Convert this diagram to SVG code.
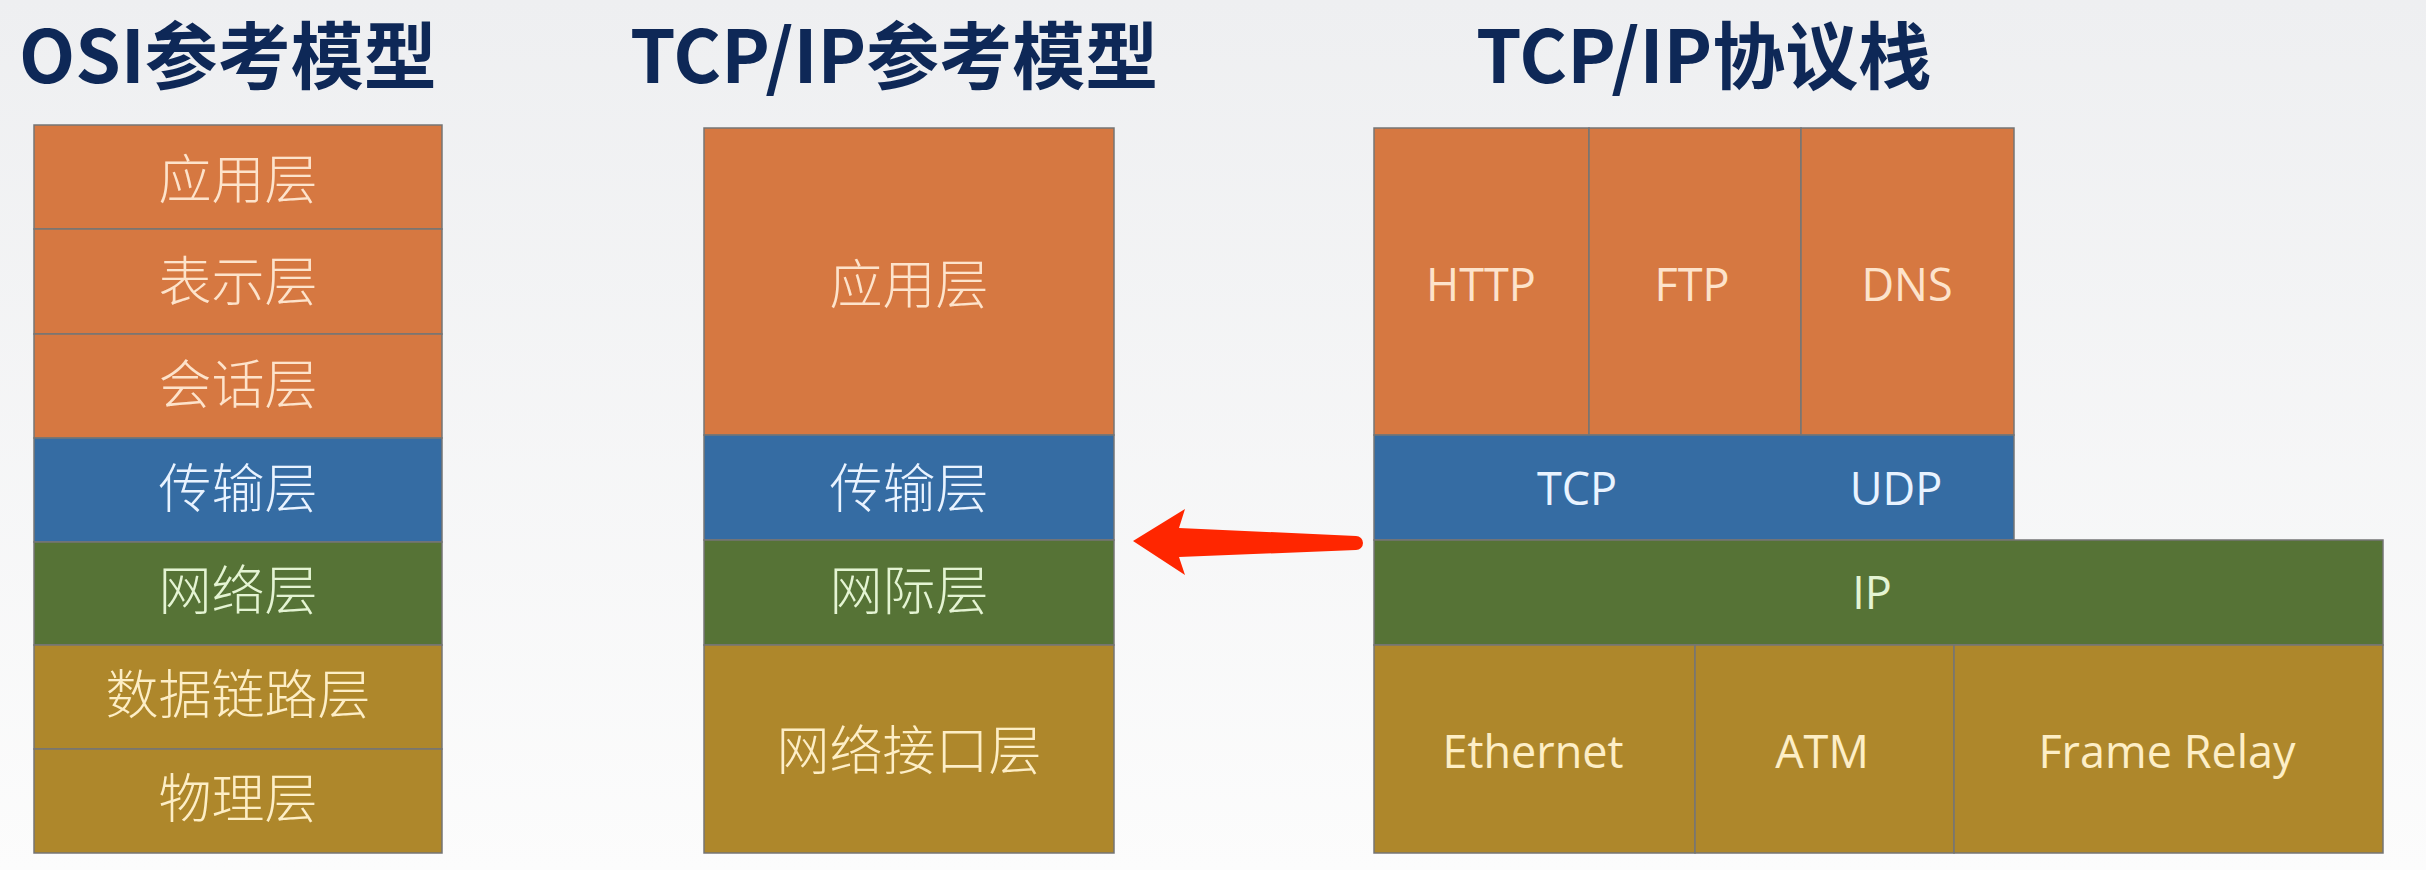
<svg xmlns="http://www.w3.org/2000/svg" width="2426" height="870" viewBox="0 0 2426 870">
<defs>
<linearGradient id="bg" x1="0" y1="0" x2="0" y2="1">
<stop offset="0" stop-color="#eeeff1"/>
<stop offset="1" stop-color="#fcfcfc"/>
</linearGradient>
</defs>
<style>
.title{font-family:"Noto Sans CJK SC","Noto Sans",sans-serif;font-weight:700;font-size:73px;fill:#0e2857}
.cell{stroke:#757575;stroke-width:1.5}
.app{fill:#d67841}
.tr{fill:#356ca3}
.net{fill:#567336}
.lnk{fill:#ae872b}
.cn{font-family:"Noto Sans CJK SC",sans-serif;font-weight:300;font-size:53px;text-anchor:middle;dominant-baseline:central}
.en{font-family:"Open Sans","Noto Sans",sans-serif;font-size:45px;text-anchor:middle;dominant-baseline:central}
.tapp{fill:#fde3cb}
.ttr{fill:#e9f3ff}
.tnet{fill:#e4f4d3}
.tlnk{fill:#fdeec6}
</style>
<rect x="0" y="0" width="2426" height="870" fill="url(#bg)"/>

<g id="titles">
<text class="title" x="19" y="83">OSI参考模型</text>
<text class="title" x="630" y="83">TCP/IP参考模型</text>
<text class="title" x="1476" y="83">TCP/IP协议栈</text>
</g>

<g id="osi-application"><rect class="cell app" x="34" y="125" width="408" height="104"/><text class="cn tapp" x="238" y="176">应用层</text></g>
<g id="osi-presentation"><rect class="cell app" x="34" y="229" width="408" height="105"/><text class="cn tapp" x="238" y="278">表示层</text></g>
<g id="osi-session"><rect class="cell app" x="34" y="334" width="408" height="104"/><text class="cn tapp" x="238" y="381">会话层</text></g>
<g id="osi-transport"><rect class="cell tr" x="34" y="438" width="408" height="104"/><text class="cn ttr" x="238" y="485">传输层</text></g>
<g id="osi-network"><rect class="cell net" x="34" y="542" width="408" height="103"/><text class="cn tnet" x="238" y="587">网络层</text></g>
<g id="osi-datalink"><rect class="cell lnk" x="34" y="645" width="408" height="104"/><text class="cn tlnk" x="238" y="691">数据链路层</text></g>
<g id="osi-physical"><rect class="cell lnk" x="34" y="749" width="408" height="104"/><text class="cn tlnk" x="238" y="795">物理层</text></g>

<g id="tcpip-application"><rect class="cell app" x="704" y="128" width="410" height="307"/><text class="cn tapp" x="909" y="281">应用层</text></g>
<g id="tcpip-transport"><rect class="cell tr" x="704" y="435" width="410" height="105"/><text class="cn ttr" x="909" y="485">传输层</text></g>
<g id="tcpip-internet"><rect class="cell net" x="704" y="540" width="410" height="105"/><text class="cn tnet" x="909" y="587">网际层</text></g>
<g id="tcpip-link"><rect class="cell lnk" x="704" y="645" width="410" height="208"/><text class="cn tlnk" x="909" y="747">网络接口层</text></g>

<g id="stack-http"><rect class="cell app" x="1374" y="128" width="215" height="307"/><text class="en tapp" x="1481" y="283">HTTP</text></g>
<g id="stack-ftp"><rect class="cell app" x="1589" y="128" width="212" height="307"/><text class="en tapp" x="1692" y="283">FTP</text></g>
<g id="stack-dns"><rect class="cell app" x="1801" y="128" width="213" height="307"/><text class="en tapp" x="1907" y="283">DNS</text></g>
<g id="stack-tcp-udp"><rect class="cell tr" x="1374" y="435" width="640" height="105"/><text class="en ttr" x="1577" y="487">TCP</text><text class="en ttr" x="1896" y="487">UDP</text></g>
<g id="stack-ip"><rect class="cell net" x="1374" y="540" width="1009" height="105"/><text class="en tnet" x="1872" y="591">IP</text></g>
<g id="stack-ethernet"><rect class="cell lnk" x="1374" y="645" width="321" height="208"/><text class="en tlnk" x="1533" y="750">Ethernet</text></g>
<g id="stack-atm"><rect class="cell lnk" x="1695" y="645" width="259" height="208"/><text class="en tlnk" x="1822" y="750">ATM</text></g>
<g id="stack-framerelay"><rect class="cell lnk" x="1954" y="645" width="429" height="208"/><text class="en tlnk" x="2167" y="750">Frame Relay</text></g>

<g id="connectors">
<path d="M1133,541 L1185,509 L1179,528 L1356,536 A7,7 0 0 1 1356,550 L1179,557 L1185,575 Z" fill="#ff2600"/>
</g>
</svg>
